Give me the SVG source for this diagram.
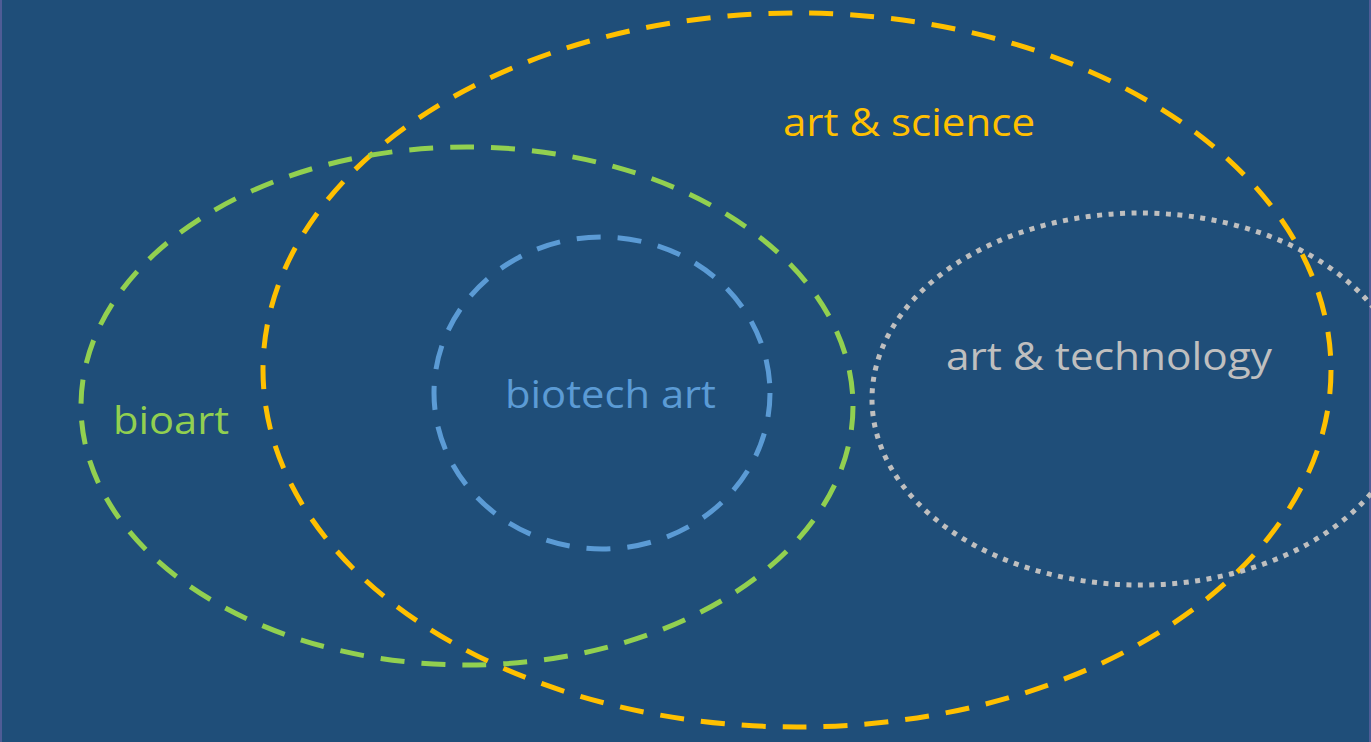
<svg xmlns="http://www.w3.org/2000/svg" width="1371" height="742" viewBox="0 0 1371 742">
<style>
.e{fill:none;stroke-width:5}
.d{stroke-dasharray:24 17}
.t{font-family:"Open Sans","Noto Sans",sans-serif;font-size:38px}
</style>
<rect width="1371" height="742" fill="#1F4E79"/>
<rect x="0" y="0" width="2" height="742" fill="#4F5C96"/>
<rect x="1369" y="0" width="2" height="742" fill="#4F5C96"/>
<g id="connectors"></g>
<g id="art-science">
<ellipse class="e d" cx="797" cy="370" rx="534" ry="357" stroke="#FFC000"/>
<text class="t" x="783" y="136" fill="#FFC000" textLength="252" lengthAdjust="spacingAndGlyphs">art &amp; science</text>
</g>
<g id="bioart">
<ellipse class="e d" cx="467" cy="406" rx="386" ry="259" stroke="#92D050"/>
<text class="t" x="113" y="434" fill="#92D050" textLength="116" lengthAdjust="spacingAndGlyphs">bioart</text>
</g>
<g id="biotech-art">
<ellipse class="e d" cx="602" cy="393" rx="168" ry="156" stroke="#5B9BD5"/>
<text class="t" x="505" y="408" fill="#5B9BD5" textLength="211" lengthAdjust="spacingAndGlyphs">biotech art</text>
</g>
<g id="art-technology">
<ellipse class="e" cx="1140" cy="399" rx="268" ry="186" stroke="#BFBFBF" stroke-width="4.5" stroke-dasharray="5 6.5"/>
<text class="t" x="946" y="370" fill="#BFBFBF" textLength="326" lengthAdjust="spacingAndGlyphs">art &amp; technology</text>
</g>
</svg>
